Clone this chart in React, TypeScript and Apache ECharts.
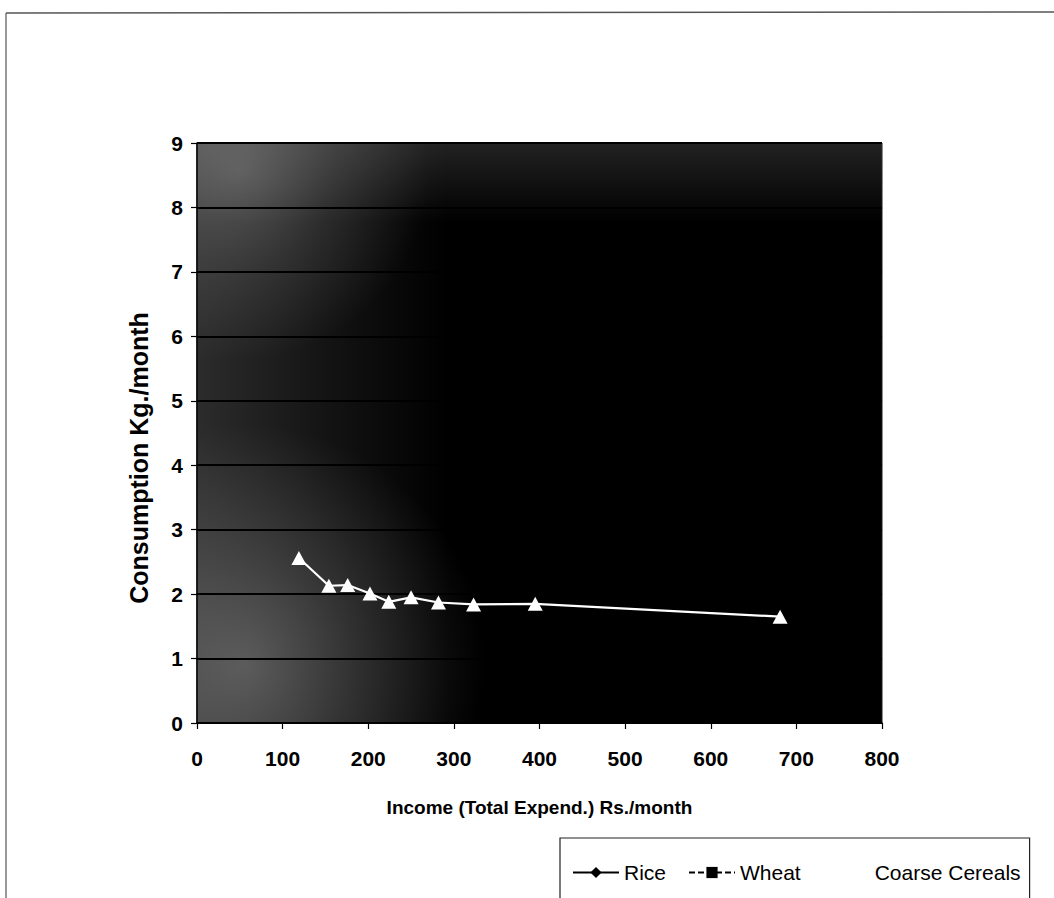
import React, { useEffect, useRef } from "react";
import * as echarts from "echarts";

// Monthly income (total expenditure, Rs./month) for each household class
const incomeCoarse = [119, 154, 176, 202, 224, 250, 282, 323, 395, 681];
// Coarse cereals consumption, Kg./month
const coarseCereals = [2.56, 2.13, 2.14, 2.01, 1.88, 1.95, 1.87, 1.84, 1.85, 1.65];
// Rice and wheat are plotted in black on the dark plot area
const riceSeries: [number, number][] = [];
const wheatSeries: [number, number][] = [];

const seriesNames = ["Rice", "Wheat", "Coarse Cereals"];
const xTicks = { min: 0, max: 800, interval: 100 };
const yTicks = { min: 0, max: 9, interval: 1 };

const W = 1054;
const H = 898;
const GRID = { left: 197, top: 143, right: 172, bottom: 175 };
const PW = W - GRID.left - GRID.right;
const PH = H - GRID.top - GRID.bottom;

const FONT = "'Liberation Sans', Arial, sans-serif";

export default function App() {
  const ref = useRef<HTMLDivElement>(null);

  useEffect(() => {
    if (!ref.current) return;
    const chart = echarts.init(ref.current, undefined, { renderer: "svg" });

    const grey = (a: number) => `rgba(170,170,170,${a})`;
    const plotRect = { x: GRID.left, y: GRID.top, width: PW, height: PH };

    // soft grey shading layered over the black plot area
    const shade = (fill: any) => ({
      type: "rect",
      z: 1,
      silent: true,
      shape: plotRect,
      style: { fill },
    });

    chart.setOption({
      animation: false,
      backgroundColor: "#ffffff",
      grid: {
        left: GRID.left,
        top: GRID.top,
        right: GRID.right,
        bottom: GRID.bottom,
        show: true,
        backgroundColor: "#000000",
        borderColor: "#1a1a1a",
        borderWidth: 1,
      },
      legend: {
        data: seriesNames,
        left: 560,
        top: 838,
        orient: "horizontal",
        padding: [24, 9, 24, 12],
        itemWidth: 46,
        itemHeight: 14,
        itemGap: 22,
        borderColor: "#222",
        borderWidth: 1.2,
        borderRadius: 0,
        textStyle: { fontFamily: FONT, fontSize: 21, color: "#000" },
      },
      xAxis: {
        type: "value",
        min: xTicks.min,
        max: xTicks.max,
        interval: xTicks.interval,
        z: 3,
        name: "Income (Total Expend.) Rs./month",
        nameLocation: "middle",
        nameGap: 75,
        nameTextStyle: { fontFamily: FONT, fontSize: 19, fontWeight: "bold", color: "#000" },
        axisLine: { show: true, lineStyle: { color: "#000", width: 1.5 } },
        axisTick: { show: true, inside: false, length: 6, lineStyle: { color: "#000", width: 1.2 } },
        axisLabel: { fontFamily: FONT, fontSize: 21, fontWeight: "bold", color: "#000", margin: 25 },
        splitLine: { show: false },
      },
      yAxis: {
        type: "value",
        min: yTicks.min,
        max: yTicks.max,
        interval: yTicks.interval,
        z: 3,
        axisLine: { show: true, lineStyle: { color: "#000", width: 1.5 } },
        axisTick: { show: true, inside: false, length: 6, lineStyle: { color: "#000", width: 1.2 } },
        axisLabel: { fontFamily: FONT, fontSize: 21, fontWeight: "bold", color: "#000", margin: 14 },
        splitLine: { show: true, lineStyle: { color: "#000", width: 2 } },
      },
      graphic: [
        // outer frame of the figure
        { type: "line", z: 5, shape: { x1: 6, y1: 13, x2: W, y2: 12 }, style: { stroke: "#555", lineWidth: 1.5 } },
        { type: "line", z: 5, shape: { x1: 6, y1: 13, x2: 6, y2: H }, style: { stroke: "#555", lineWidth: 1.2 } },
        // left band
        shade(
          new echarts.graphic.LinearGradient(GRID.left, 0, GRID.left + 250, 0, [
            { offset: 0, color: grey(0.26) },
            { offset: 0.5, color: grey(0.12) },
            { offset: 1, color: grey(0) },
          ], true)
        ),
        // top band
        shade(
          new echarts.graphic.LinearGradient(0, GRID.top, 0, GRID.top + 80, [
            { offset: 0, color: grey(0.2) },
            { offset: 1, color: grey(0) },
          ], true)
        ),
        // upper-left patch
        shade(
          new echarts.graphic.RadialGradient(240, 170, 190, [
            { offset: 0, color: grey(0.38) },
            { offset: 0.5, color: grey(0.16) },
            { offset: 1, color: grey(0) },
          ], true)
        ),
        // lower-left patch
        shade(
          new echarts.graphic.RadialGradient(245, 665, 240, [
            { offset: 0, color: grey(0.42) },
            { offset: 0.45, color: grey(0.22) },
            { offset: 1, color: grey(0) },
          ], true)
        ),
        // y-axis title
        {
          type: "text",
          z: 5,
          x: 139,
          y: 458,
          rotation: Math.PI / 2,
          style: {
            text: "Consumption Kg./month",
            fontFamily: FONT,
            fontSize: 25,
            fontWeight: "bold",
            fill: "#000",
            textAlign: "center",
            textVerticalAlign: "middle",
          },
        },
      ],
      series: [
        {
          name: "Rice",
          type: "line",
          data: riceSeries,
          symbol: "diamond",
          symbolSize: 12,
          color: "#000",
          lineStyle: { color: "#000", width: 2 },
          itemStyle: { color: "#000" },
        },
        {
          name: "Wheat",
          type: "line",
          data: wheatSeries,
          symbol: "rect",
          symbolSize: 11,
          color: "#000",
          lineStyle: { color: "#000", width: 1.5, type: [6, 3] },
          itemStyle: { color: "#000" },
        },
        {
          name: "Coarse Cereals",
          type: "line",
          z: 4,
          data: incomeCoarse.map((x, i) => [x, coarseCereals[i]]),
          symbol: "triangle",
          symbolSize: [15, 14],
          color: "#fff",
          lineStyle: { color: "#fff", width: 2.2 },
          itemStyle: { color: "#fff" },
        },
      ],
    });

    return () => chart.dispose();
  }, []);

  return (
    <div
      ref={ref}
      style={{ position: "absolute", left: 0, top: 0, width: W, height: H }}
    />
  );
}
